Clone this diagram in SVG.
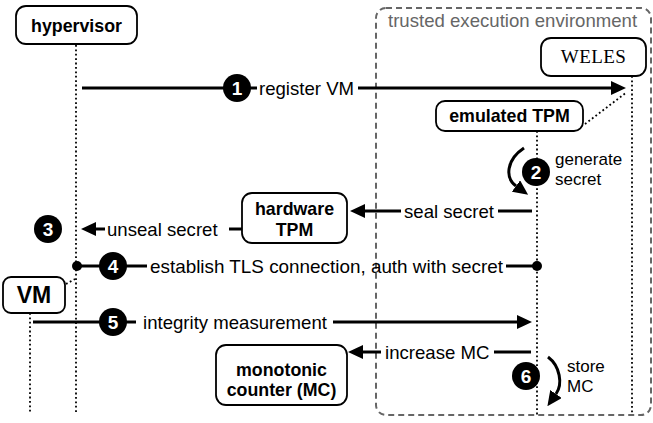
<svg xmlns="http://www.w3.org/2000/svg" width="653" height="423" viewBox="0 0 653 423">
<style>
.node{fill:#fff;stroke:#000;stroke-width:1.8}
.bl{font-family:"Liberation Sans",Arial,sans-serif;font-weight:bold;font-size:17.8px;fill:#000;text-anchor:middle}
.lb{font-family:"Liberation Sans",Arial,sans-serif;font-size:18.6px;fill:#000}
.sm{font-family:"Liberation Sans",Arial,sans-serif;font-size:17px;fill:#000}
.num{font-family:"Liberation Sans",Arial,sans-serif;font-weight:bold;font-size:19px;fill:#fff;text-anchor:middle}
.life{stroke:#000;stroke-width:1.8;stroke-dasharray:1.8 2.6;fill:none}
.ln{stroke:#000;stroke-width:3;fill:none}
</style>
<defs>
<marker id="ah" viewBox="0 0 15 14" refX="0" refY="7" markerWidth="15" markerHeight="14" markerUnits="userSpaceOnUse" orient="auto"><path d="M0,0 L15,7 L0,14 z" fill="#000"/></marker>
</defs>
<g id="tee">
<rect x="376" y="8" width="275" height="407" rx="10" fill="none" stroke="#666" stroke-width="2" stroke-dasharray="6 4"/>
<text x="388" y="27" class="lb" style="fill:#666">trusted execution environment</text>
</g>
<g id="lifelines">
<line class="life" x1="76" y1="45" x2="76" y2="413"/>
<line class="life" x1="537" y1="131" x2="537" y2="415"/>
<line class="life" x1="632" y1="76" x2="632" y2="413"/>
<line class="life" x1="30" y1="313" x2="30" y2="413"/>
<line class="life" x1="585" y1="124" x2="627" y2="92"/>
<line class="life" x1="66" y1="284" x2="75" y2="279"/>
</g>
<g id="hypervisor"><rect class="node" x="16" y="6" width="121" height="38" rx="10"/><text class="bl" x="76.5" y="32">hypervisor</text></g>
<g id="weles"><rect class="node" x="541" y="38" width="105" height="38" rx="10"/><text x="593.5" y="63" text-anchor="middle" style="font-family:'Liberation Serif','Times New Roman',serif;font-size:19px;letter-spacing:0.4px">WELES</text></g>
<g id="emulated-tpm"><rect class="node" x="436" y="101" width="147" height="30" rx="9"/><text class="bl" x="509.5" y="122">emulated TPM</text></g>
<g id="hardware-tpm"><rect class="node" x="242" y="193" width="105" height="50" rx="10"/><text class="bl" x="294.5" y="215">hardware<tspan x="294.5" dy="21">TPM</tspan></text></g>
<g id="vm"><rect class="node" x="3" y="277" width="62" height="36" rx="8"/><text class="bl" x="34" y="303" style="font-size:23px">VM</text></g>
<g id="monotonic-counter"><rect class="node" x="216" y="345" width="131" height="60" rx="10"/><text class="bl" x="281.5" y="376">monotonic<tspan x="281.5" dy="20">counter (MC)</tspan></text></g>
<g id="connectors">
<line class="ln" x1="82" y1="88" x2="226" y2="88"/>
<line class="ln" x1="249" y1="88" x2="257" y2="88"/>
<text class="lb" x="259" y="94.5">register VM</text>
<line class="ln" x1="358" y1="88" x2="611" y2="88" marker-end="url(#ah)"/>
<circle cx="237" cy="88" r="14"/><text class="num" x="237" y="94.5">1</text>
<path class="ln" d="M524,148 C506,160 505,178 516,186" marker-end="url(#ah)"/>
<circle cx="536" cy="172" r="14"/><text class="num" x="536" y="178.5">2</text>
<text class="sm" x="555" y="165">generate<tspan x="555" dy="19.5">secret</tspan></text>
<line class="ln" x1="498" y1="211" x2="532" y2="211"/>
<text class="lb" x="404" y="217.5">seal secret</text>
<line class="ln" x1="401" y1="211" x2="365" y2="211" marker-end="url(#ah)"/>
<line class="ln" x1="229" y1="229" x2="242" y2="229"/>
<text class="lb" x="107" y="235.5">unseal secret</text>
<line class="ln" x1="105" y1="229" x2="96" y2="229" marker-end="url(#ah)"/>
<circle cx="48" cy="229" r="14"/><text class="num" x="48" y="235.5">3</text>
<circle cx="77" cy="266" r="5"/>
<line class="ln" x1="77" y1="266" x2="102" y2="266"/>
<circle cx="113" cy="266" r="14"/><text class="num" x="113" y="272.5">4</text>
<line class="ln" x1="124" y1="266" x2="147" y2="266"/>
<text class="lb" x="150" y="272.5" textLength="353" lengthAdjust="spacingAndGlyphs">establish TLS connection, auth with secret</text>
<line class="ln" x1="506" y1="266" x2="537" y2="266"/>
<circle cx="537" cy="266" r="5"/>
<line class="ln" x1="33" y1="322" x2="102" y2="322"/>
<circle cx="113" cy="322" r="14"/><text class="num" x="113" y="328.5">5</text>
<line class="ln" x1="124" y1="322" x2="136" y2="322"/>
<text class="lb" x="143" y="328.5">integrity measurement</text>
<line class="ln" x1="333" y1="322" x2="517" y2="322" marker-end="url(#ah)"/>
<line class="ln" x1="494" y1="352" x2="531" y2="352"/>
<text class="lb" x="385" y="358.5">increase MC</text>
<line class="ln" x1="381" y1="352" x2="363" y2="352" marker-end="url(#ah)"/>
<path class="ln" d="M548,357 C560,366 563,384 556,394" marker-end="url(#ah)"/>
<circle cx="526" cy="376" r="14"/><text class="num" x="526" y="382.5">6</text>
<text class="sm" x="567" y="372">store<tspan x="567" dy="19.5">MC</tspan></text>
</g>
</svg>
